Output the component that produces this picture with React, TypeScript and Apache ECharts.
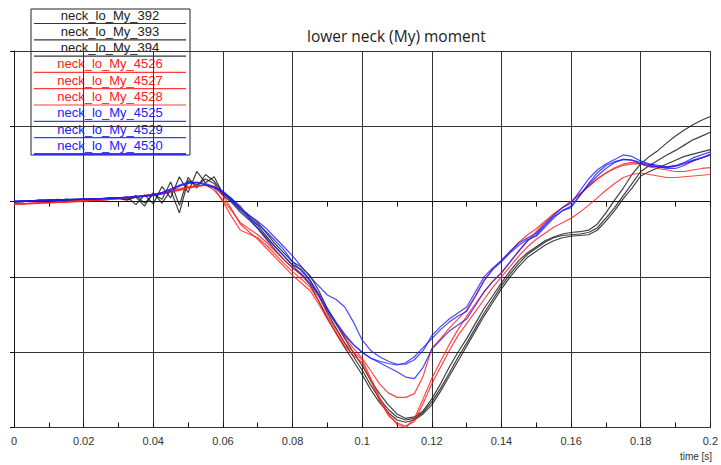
import React, { useEffect, useRef } from "react";
import * as echarts from "echarts";

const TITLE = "lower neck (My) moment";
const X_NAME = "time [s]";

const time = [
  0, 0.0025, 0.005, 0.0075, 0.01, 0.0125, 0.015, 0.0175, 0.02, 0.0225,
  0.025, 0.0275, 0.03, 0.0325, 0.035, 0.0375, 0.04, 0.0425, 0.045, 0.0475,
  0.05, 0.0525, 0.055, 0.0575, 0.06, 0.0625, 0.065, 0.0675, 0.07, 0.0725,
  0.075, 0.0775, 0.08, 0.0825, 0.085, 0.0875, 0.09, 0.0925, 0.095, 0.0975,
  0.1, 0.1025, 0.105, 0.1075, 0.11, 0.1125, 0.115, 0.1175, 0.12, 0.1225,
  0.125, 0.1275, 0.13, 0.1325, 0.135, 0.1375, 0.14, 0.1425, 0.145, 0.1475,
  0.15, 0.1525, 0.155, 0.1575, 0.16, 0.1625, 0.165, 0.1675, 0.17, 0.1725,
  0.175, 0.1775, 0.18, 0.1825, 0.185, 0.1875, 0.19, 0.1925, 0.195, 0.1975,
  0.2,
];

const my392 = [
  0.0, 0.01, 0.01, 0.02, 0.02, 0.02, 0.03, 0.02, 0.03, 0.03,
  0.04, 0.04, 0.05, 0.03, 0.08, -0.02, 0.1, 0.03, 0.26, -0.05,
  0.32, 0.18, 0.36, 0.27, 0.12, 0.04, -0.08, -0.18, -0.28, -0.42,
  -0.56, -0.68, -0.8, -0.87, -0.98, -1.18, -1.42, -1.62, -1.82, -2.0,
  -2.18, -2.38, -2.55, -2.7, -2.82, -2.88, -2.86, -2.78, -2.62, -2.42,
  -2.2, -2.0, -1.82, -1.62, -1.42, -1.25, -1.08, -0.92, -0.78, -0.68,
  -0.6, -0.52, -0.47, -0.43, -0.41, -0.4, -0.38, -0.3, -0.15, 0.02,
  0.18, 0.36, 0.5, 0.6, 0.68, 0.78, 0.87, 0.95, 1.02, 1.08,
  1.13,
];
const my393 = [
  -0.01, 0.0, 0.01, 0.01, 0.02, 0.01, 0.02, 0.03, 0.03, 0.02,
  0.04, 0.03, 0.05, 0.06, -0.04, 0.09, -0.03, 0.2, 0.05, 0.33,
  0.12, 0.4, 0.25, 0.33, 0.1, 0.02, -0.1, -0.2, -0.32, -0.46,
  -0.6, -0.72, -0.84, -0.9, -1.04, -1.25, -1.48, -1.68, -1.88, -2.06,
  -2.24, -2.44, -2.62, -2.76, -2.86, -2.9, -2.88, -2.8, -2.66, -2.48,
  -2.28, -2.07, -1.88, -1.68, -1.48, -1.3, -1.12, -0.96, -0.82, -0.7,
  -0.62, -0.54, -0.48, -0.45, -0.44, -0.43, -0.41, -0.35, -0.22, -0.08,
  0.08, 0.24, 0.4, 0.48, 0.55, 0.62, 0.68, 0.75, 0.82, 0.87,
  0.92,
];
const my394 = [
  0.0, 0.0, 0.01, 0.02, 0.01, 0.03, 0.02, 0.02, 0.03, 0.04,
  0.03, 0.05, 0.04, 0.02, 0.06, -0.06, 0.12, -0.02, 0.15, -0.15,
  0.28, 0.22, 0.3, 0.24, 0.08, -0.01, -0.14, -0.24, -0.36, -0.5,
  -0.64, -0.77, -0.88, -0.96, -1.1, -1.32, -1.55, -1.75, -1.94, -2.12,
  -2.3, -2.5, -2.67, -2.8, -2.9, -2.93, -2.9, -2.82, -2.7, -2.52,
  -2.32, -2.12, -1.92, -1.72, -1.52, -1.34, -1.16, -1.0, -0.86, -0.74,
  -0.66, -0.58, -0.52, -0.48, -0.46, -0.45, -0.44, -0.38, -0.26, -0.12,
  0.04, 0.18, 0.34, 0.4, 0.45, 0.5, 0.55, 0.6, 0.63, 0.66,
  0.69,
];
const my4526 = [
  -0.03, -0.03, -0.02, -0.02, -0.01, -0.01, 0.0, 0.0, 0.01, 0.02,
  0.02, 0.03, 0.04, 0.05, 0.07, 0.08, 0.1, 0.12, 0.15, 0.17,
  0.2, 0.21, 0.22, 0.15, 0.02, -0.12, -0.28, -0.36, -0.44, -0.54,
  -0.66, -0.77, -0.88, -0.98, -1.1, -1.26, -1.45, -1.62, -1.8, -1.95,
  -2.08, -2.25, -2.42, -2.54, -2.6, -2.6, -2.55, -2.32, -1.95, -1.82,
  -1.68, -1.56, -1.44, -1.25, -1.05, -0.9, -0.78, -0.66, -0.54, -0.44,
  -0.36, -0.26, -0.16, -0.08, 0.0, 0.1, 0.2, 0.3, 0.38, 0.44,
  0.48, 0.5, 0.5, 0.48, 0.46, 0.46, 0.47, 0.5, 0.54, 0.58,
  0.63,
];
const my4527 = [
  -0.04, -0.03, -0.03, -0.02, -0.02, -0.01, -0.01, 0.0, 0.0, 0.01,
  0.02, 0.03, 0.04, 0.05, 0.06, 0.08, 0.1, 0.11, 0.13, 0.16,
  0.19, 0.21, 0.22, 0.18, 0.0, -0.2, -0.38, -0.43, -0.48, -0.58,
  -0.7, -0.82, -0.93, -1.03, -1.13, -1.32, -1.52, -1.7, -1.88, -2.0,
  -2.1, -2.35, -2.6, -2.82, -2.96, -3.0, -2.88, -2.62, -2.35, -2.12,
  -1.9, -1.7, -1.52, -1.36, -1.2, -1.06, -0.94, -0.8, -0.66, -0.52,
  -0.4, -0.28, -0.18, -0.08, 0.0, 0.1, 0.2, 0.3, 0.38, 0.45,
  0.5, 0.52, 0.5, 0.46, 0.44, 0.42, 0.4, 0.4, 0.42, 0.44,
  0.45,
];
const my4528 = [
  -0.02, -0.03, -0.02, -0.01, -0.01, 0.0, 0.0, 0.01, 0.01, 0.02,
  0.02, 0.03, 0.04, 0.05, 0.06, 0.07, 0.09, 0.11, 0.13, 0.15,
  0.18, 0.2, 0.22, 0.2, 0.08, -0.1, -0.3, -0.4, -0.5, -0.62,
  -0.74, -0.86, -0.98, -1.08, -1.18, -1.36, -1.56, -1.74, -1.92, -2.04,
  -2.14, -2.38, -2.64, -2.84, -2.94, -2.98, -2.92, -2.68, -2.42, -2.2,
  -1.98, -1.78, -1.62, -1.46, -1.3, -1.14, -1.0, -0.86, -0.72, -0.6,
  -0.5, -0.42, -0.34, -0.28, -0.22, -0.14, -0.05, 0.05, 0.15, 0.24,
  0.32, 0.36, 0.38, 0.36, 0.34, 0.32, 0.32, 0.33, 0.34, 0.35,
  0.36,
];
const my4525 = [
  0.0, 0.0, 0.01, 0.01, 0.02, 0.02, 0.02, 0.03, 0.03, 0.03,
  0.04, 0.04, 0.05, 0.05, 0.06, 0.07, 0.08, 0.1, 0.14, 0.2,
  0.25, 0.26, 0.24, 0.2, 0.12, 0.0, -0.12, -0.22, -0.3, -0.4,
  -0.52, -0.64, -0.8, -0.92, -1.05, -1.22, -1.42, -1.6, -1.76, -1.9,
  -2.0, -2.08, -2.14, -2.2, -2.26, -2.33, -2.35, -2.2, -1.96, -1.84,
  -1.72, -1.64, -1.56, -1.38, -1.2, -1.06, -0.95, -0.8, -0.65, -0.52,
  -0.44, -0.32, -0.2, -0.12, -0.06, 0.08, 0.22, 0.34, 0.44, 0.52,
  0.56, 0.55, 0.52, 0.49, 0.46, 0.44, 0.44, 0.48, 0.54, 0.58,
  0.62,
];
const my4529 = [
  0.01, 0.01, 0.01, 0.02, 0.02, 0.02, 0.03, 0.03, 0.03, 0.04,
  0.04, 0.05, 0.05, 0.06, 0.06, 0.08, 0.09, 0.12, 0.16, 0.22,
  0.26, 0.25, 0.22, 0.18, 0.12, 0.02, -0.1, -0.18, -0.26, -0.36,
  -0.48, -0.6, -0.72, -0.86, -1.0, -1.12, -1.24, -1.3, -1.4, -1.6,
  -1.84, -1.98, -2.06, -2.12, -2.16, -2.16, -2.1, -1.98, -1.78, -1.66,
  -1.56, -1.48, -1.4, -1.2, -1.0, -0.88, -0.78, -0.66, -0.55, -0.48,
  -0.42, -0.3, -0.18, -0.08, -0.02, 0.14, 0.3, 0.42, 0.5, 0.56,
  0.62, 0.6, 0.54, 0.5, 0.48, 0.46, 0.48, 0.52, 0.58, 0.62,
  0.66,
];
const my4530 = [
  0.0, 0.01, 0.01, 0.01, 0.02, 0.02, 0.03, 0.03, 0.04, 0.04,
  0.04, 0.05, 0.05, 0.06, 0.07, 0.08, 0.09, 0.12, 0.17, 0.21,
  0.24, 0.25, 0.23, 0.19, 0.14, 0.04, -0.06, -0.22, -0.35, -0.48,
  -0.6, -0.72, -0.85, -0.96, -1.08, -1.24, -1.45, -1.62, -1.78, -1.9,
  -2.0, -2.08, -2.12, -2.15, -2.17, -2.14, -2.06, -1.94, -1.82, -1.7,
  -1.6, -1.52, -1.46, -1.26, -1.05, -0.9, -0.8, -0.68, -0.58, -0.5,
  -0.46, -0.34, -0.22, -0.12, -0.08, 0.08, 0.24, 0.38, 0.48, 0.53,
  0.56, 0.55, 0.5, 0.47, 0.46, 0.45, 0.47, 0.51, 0.55, 0.58,
  0.62,
];

const seriesNames = [
  "neck_lo_My_392", "neck_lo_My_393", "neck_lo_My_394",
  "neck_lo_My_4526", "neck_lo_My_4527", "neck_lo_My_4528",
  "neck_lo_My_4525", "neck_lo_My_4529", "neck_lo_My_4530",
];
const seriesValues = [my392, my393, my394, my4526, my4527, my4528, my4525, my4529, my4530];
const seriesColors = [
  "#111111", "#111111", "#111111",
  "#ff1a1a", "#ff1a1a", "#ff1a1a",
  "#1a1aff", "#1a1aff", "#1a1aff",
];
const legendTextColors = [
  "#222222", "#222222", "#222222",
  "#ff2020", "#ff2020", "#ff2020",
  "#2020ff", "#2020ff", "#2020ff",
];

export default function App() {
  const ref = useRef<HTMLDivElement>(null);

  useEffect(() => {
    if (!ref.current) return;
    const chart = echarts.init(ref.current, undefined, { renderer: "svg" });

    const series = seriesNames.map((name, k) => ({
      name,
      type: "line",
      showSymbol: false,
      symbol: "none",
      data: time.map((t, i) => [t, seriesValues[k][i]]),
      lineStyle: { color: seriesColors[k], width: 1.2, opacity: 0.8 },
      itemStyle: { color: seriesColors[k] },
      z: 3,
    }));

    const legendX = 31;
    const legendY = 9;
    const legendW = 159;
    const rowH = 16.3;
    const legendChildren: any[] = [
      {
        type: "rect",
        shape: { x: legendX, y: legendY, width: legendW, height: 146 },
        style: { fill: "#fff", stroke: "#222", lineWidth: 1 },
      },
    ];
    seriesNames.forEach((name, k) => {
      const lineY = 23.5 + rowH * k;
      legendChildren.push({
        type: "text",
        x: 110,
        y: lineY - 8.5,
        style: {
          text: name,
          fill: legendTextColors[k],
          font: "13px 'Liberation Sans', Arial, sans-serif",
          textAlign: "center",
          textVerticalAlign: "middle",
        },
      });
      legendChildren.push({
        type: "line",
        shape: { x1: 34, y1: lineY, x2: 186, y2: lineY },
        style: { stroke: seriesColors[k], lineWidth: k === 8 ? 2 : 1.2, opacity: 0.85 },
      });
    });

    chart.setOption({
      animation: false,
      backgroundColor: "#fff",
      grid: { left: 14, right: 7, top: 51, bottom: 37.5, containLabel: false },
      title: {
        text: TITLE,
        left: 302,
        top: 23,
        textStyle: {
          fontFamily: "'Open Sans', sans-serif",
          fontSize: 15.5,
          fontWeight: "normal",
          color: "#222",
        },
      },
      xAxis: [
        {
          type: "value",
          min: 0,
          max: 0.2,
          interval: 0.02,
          axisLine: { show: true, lineStyle: { color: "#111", width: 1 } },
          axisTick: { show: true, length: 5, lineStyle: { color: "#111" } },
          minorTick: { show: true, splitNumber: 2, length: 5, lineStyle: { color: "#111" } },
          splitLine: { show: true, lineStyle: { color: "#333", width: 1 } },
          axisLabel: {
            margin: 8,
            fontSize: 11,
            color: "#333",
            fontFamily: "'Liberation Sans', Arial, sans-serif",
          },
        },
        {
          type: "value",
          min: 0,
          max: 0.2,
          interval: 0.02,
          position: "bottom",
          axisLine: { show: false },
          axisTick: { show: true, inside: true, length: 5, lineStyle: { color: "#111" } },
          minorTick: { show: true, splitNumber: 2, length: 5, lineStyle: { color: "#111" } },
          splitLine: { show: false },
          axisLabel: { show: false },
        },
      ],
      yAxis: {
        type: "value",
        min: -3,
        max: 2,
        interval: 1,
        axisLine: { show: true, lineStyle: { color: "#111", width: 1 } },
        axisTick: { show: true, length: 4, lineStyle: { color: "#111" } },
        axisLabel: { show: false },
        splitLine: { show: true, lineStyle: { color: "#333", width: 1 } },
      },
      series,
      graphic: [
        {
          type: "text",
          x: 696,
          y: 456,
          style: {
            text: X_NAME,
            fill: "#333",
            font: "10px 'Liberation Sans', Arial, sans-serif",
            textAlign: "center",
            textVerticalAlign: "middle",
          },
        },
        { type: "group", z: 100, children: legendChildren },
      ],
    });

    return () => chart.dispose();
  }, []);

  return (
    <div
      ref={ref}
      style={{ position: "fixed", left: 0, top: 0, width: 721, height: 465, background: "#fff" }}
    />
  );
}
